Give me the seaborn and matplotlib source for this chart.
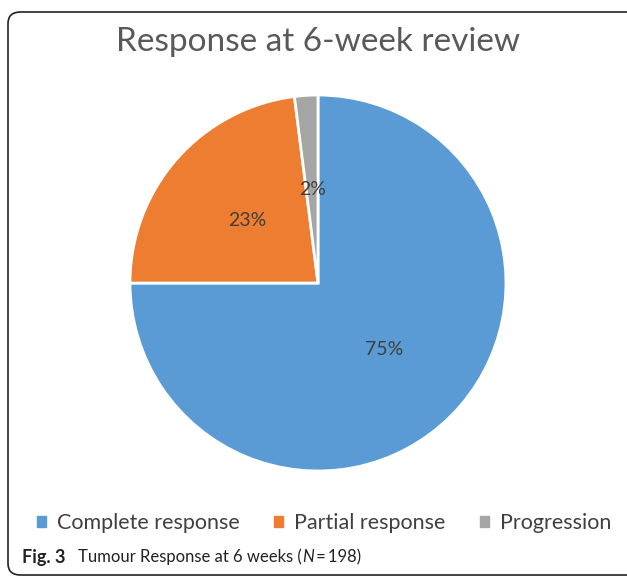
import matplotlib
matplotlib.use("Agg")
import matplotlib.pyplot as plt
import seaborn as sns
from matplotlib.patches import FancyBboxPatch, Patch

# Data
categories = ["Complete response", "Partial response", "Progression"]
shares = [75, 23, 2]
colors = ["#5B9BD5", "#ED7D31", "#A5A5A5"]

sns.set_style("white")
plt.rcParams['font.family'] = ['Lato', 'DejaVu Sans']

fig = plt.figure(figsize=(6.27, 5.78), dpi=100)

# rounded frame around the chart
frame = FancyBboxPatch((8 / 627, 3 / 578), 640 / 627, 563 / 578,
                       boxstyle="round,pad=0,rounding_size=0.02",
                       transform=fig.transFigure, facecolor="none",
                       edgecolor="#222222", linewidth=1.2, clip_on=False, zorder=0)
fig.patches.append(frame)

ax = fig.add_axes([0.2073, 0.1851, 0.5997, 0.6505])
wedges, texts, autotexts = ax.pie(
    shares, colors=colors, startangle=90, counterclock=False,
    autopct='%1.0f%%', pctdistance=0.5,
    wedgeprops=dict(edgecolor="white", linewidth=2),
    textprops=dict(color="#404040", fontsize=14))
ax.set_xlim(-1, 1)
ax.set_ylim(-1, 1)
ax.set_aspect("equal")
ax.axis("off")

fig.text(0.508, 0.928, "Response at 6-week review", ha="center", va="center",
         fontsize=24, color="#595959")

handles = [Patch(facecolor=c, edgecolor=c) for c in colors]
fig.legend(handles, categories, loc="center", bbox_to_anchor=(0.517, 0.095),
           ncol=3, frameon=False, fontsize=15.5, handlelength=0.42, handleheight=0.42,
           handletextpad=0.5, columnspacing=1.6, labelcolor="#404040")

# caption, pieces chained one after another
t1 = fig.text(0.035, 0.036, "Fig. 3", fontsize=13, fontweight="bold", va="center", color="#222222")
t2 = fig.text(78 / 627, 0.036, "Tumour Response at 6 weeks (", fontsize=12, va="center", color="#222222")
t3 = fig.text(0, 0, "N", fontsize=12, style="italic", va="center", color="#222222")
t4 = fig.text(0, 0, "\u2009=\u2009198)", fontsize=12, va="center", color="#222222")
fig.canvas.draw()
prev = t2
for t in [t3, t4]:
    bb = prev.get_window_extent().transformed(fig.transFigure.inverted())
    t.set_position((bb.x1, 0.036))
    fig.canvas.draw()
    prev = t

fig.savefig("out.png", dpi=100)
